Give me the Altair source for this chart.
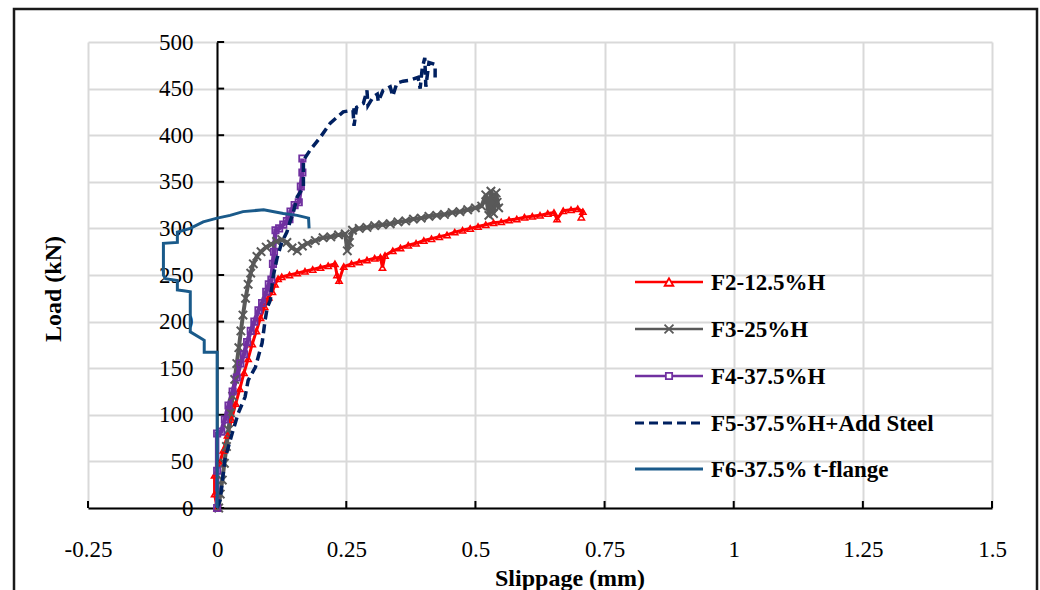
import altair as alt
import pandas as pd

# ---------------- data ----------------
series_names = ["F2-12.5%H", "F3-25%H", "F4-37.5%H", "F5-37.5%H+Add Steel", "F6-37.5% t-flange"]
series_colors = ["#ff0000", "#595959", "#7030a0", "#002060", "#1a5a8a"]

f2_x = [0.0, -0.005, -0.005, 0.005, 0.012, 0.02, 0.028, 0.036, 0.044, 0.052, 0.06, 0.068, 0.076,
        0.084, 0.092, 0.1, 0.107, 0.112, 0.118, 0.125, 0.14, 0.155, 0.17, 0.185, 0.2, 0.215,
        0.228, 0.232, 0.236, 0.245, 0.26, 0.275, 0.29, 0.305, 0.316, 0.32, 0.325, 0.34, 0.355,
        0.37, 0.385, 0.40, 0.415, 0.43, 0.445, 0.46, 0.475, 0.49, 0.505, 0.52, 0.535, 0.55,
        0.565, 0.58, 0.595, 0.61, 0.625, 0.64, 0.652, 0.658, 0.67, 0.685, 0.698, 0.708, 0.705]
f2_y = [0, 15, 35, 48, 62, 78, 95, 112, 128, 145, 160, 176, 190,
        204, 216, 226, 232, 240, 246, 248, 250, 252, 254, 256, 258, 260,
        262, 250, 244, 259, 262, 264, 266, 268, 269, 258, 271, 276, 279,
        282, 284, 287, 289, 291, 293, 296, 298, 300, 302, 304, 306, 307,
        309, 310, 312, 313, 314, 316, 317, 310, 319, 320, 321, 318, 312]

f3_x = [0.003, 0.006, 0.01, 0.014, 0.018, 0.022, 0.026, 0.03, 0.034, 0.038, 0.042, 0.046, 0.05,
        0.055, 0.06, 0.065, 0.07, 0.077, 0.085, 0.095, 0.105, 0.115, 0.125, 0.135, 0.145, 0.155,
        0.165, 0.175, 0.19, 0.205, 0.22, 0.235, 0.248, 0.252, 0.256, 0.262, 0.275, 0.29, 0.305,
        0.32, 0.335, 0.35, 0.365, 0.38, 0.395, 0.41, 0.425, 0.44, 0.455, 0.47, 0.485, 0.5,
        0.512, 0.52, 0.526, 0.53, 0.535, 0.54, 0.545, 0.542]
f3_y = [0, 15, 30, 48, 66, 84, 102, 120, 138, 155, 172, 190, 207,
        225, 240, 252, 262, 270, 275, 280, 283, 286, 288, 285, 279, 276,
        281, 284, 287, 290, 291, 293, 294, 276, 285, 298, 300, 301, 303,
        304, 305, 307, 308, 310, 311, 313, 314, 315, 317, 318, 320, 322,
        324, 336, 314, 340, 316, 338, 322, 328]

f4_x = [0.0, 0.0, 0.0, 0.008, 0.015, 0.022, 0.03, 0.038, 0.045, 0.052, 0.058, 0.065, 0.072, 0.08,
        0.087, 0.095, 0.1, 0.105, 0.108, 0.11, 0.113, 0.12, 0.128, 0.135, 0.14, 0.142, 0.15,
        0.158, 0.162, 0.165, 0.165]
f4_y = [0, 40, 80, 82, 95, 110, 125, 140, 155, 165, 178, 190, 200, 212,
        220, 232, 240, 245, 262, 275, 298, 300, 304, 308, 310, 318, 325,
        328, 345, 360, 375]

f5_x = [0.0, 0.006, 0.015, 0.029, 0.041, 0.054, 0.06, 0.074, 0.087, 0.093, 0.097, 0.103, 0.108,
        0.116, 0.125, 0.135, 0.141, 0.147, 0.155, 0.167, 0.167, 0.18, 0.2, 0.219, 0.244, 0.263,
        0.265, 0.27, 0.283, 0.29, 0.292, 0.302, 0.31, 0.312, 0.321, 0.335, 0.34, 0.348, 0.36,
        0.373, 0.389, 0.393, 0.397, 0.402, 0.404, 0.41, 0.422, 0.422]
f5_y = [0, 9, 52, 80, 102, 119, 137, 151, 177, 202, 215, 223, 247,
        268, 285, 296, 307, 316, 334, 344, 373, 384, 398, 413, 425, 427,
        410, 430, 434, 448, 432, 441, 444, 436, 448, 452, 442, 456, 458,
        459, 462, 450, 472, 483, 452, 478, 476, 460]

f6_x = [0.0, 0.0, -0.025, -0.025, -0.052, -0.052, -0.065, -0.077, -0.077, -0.1, -0.104, -0.104,
        -0.077, -0.077, -0.052, -0.027, 0.0, 0.025, 0.05, 0.09, 0.128, 0.155, 0.177, 0.178]
f6_y = [0, 167, 167, 180, 189, 232, 233, 234, 244, 246, 250, 284,
        285, 296, 300, 307, 311, 314, 318, 320, 316, 314, 311, 300]

x_ticks = [-0.25, 0, 0.25, 0.5, 0.75, 1, 1.25, 1.5]
y_ticks = [0, 50, 100, 150, 200, 250, 300, 350, 400, 450, 500]

x_title = "Slippage (mm)"
y_title = "Load (kN)"

# ---------------- layout ----------------
W, H = 904, 466
FONT = "Liberation Serif"
GRID = "#d9d9d9"

xs = alt.Scale(domain=[-0.25, 1.5], nice=False, zero=False)
ys = alt.Scale(domain=[0, 500], nice=False, zero=False)


def frame(xv, yv):
    return pd.DataFrame({"x": xv, "y": yv, "i": list(range(len(xv)))})


# layer carrying gridlines + bottom x labels/domain
ax_bottom = alt.Axis(orient="bottom", values=x_ticks, grid=True, gridColor=GRID, gridWidth=2,
                     ticks=False, domain=True, domainColor="black", domainWidth=2,
                     labels=True, labelExpr="'' + datum.value", labelFont=FONT, labelFontSize=23,
                     labelColor="black", labelPadding=30, labelFlush=False, labelOverlap=False,
                     title=None)
ax_left_grid = alt.Axis(orient="left", values=y_ticks, grid=True, gridColor=GRID, gridWidth=2,
                        ticks=False, domain=False, labels=False, title=None)
# y axis line at x = 0 with labels
ax_left_main = alt.Axis(orient="left", offset=-129, values=y_ticks, grid=False, ticks=False,
                        domain=True, domainColor="black", domainWidth=2, labels=True,
                        labelExpr="'' + datum.value", labelFont=FONT, labelFontSize=23,
                        labelColor="black", labelPadding=24, labelFlush=False, title=None)


def line_layer(xv, yv, color, xaxis=None, yaxis=None, dash=None, width=2.0):
    kw = dict(color=color, strokeWidth=width, clip=False)
    if dash is not None:
        kw["strokeDash"] = dash
    return alt.Chart(frame(xv, yv)).mark_line(**kw).encode(
        x=alt.X("x:Q", scale=xs, axis=xaxis),
        y=alt.Y("y:Q", scale=ys, axis=yaxis),
        order=alt.Order("i:Q"),
    )


def point_layer(xv, yv, color, shape, size, filled=False, sw=1.3):
    return alt.Chart(frame(xv, yv)).mark_point(
        shape=shape, size=size, filled=filled, color=color, strokeWidth=sw, opacity=1
    ).encode(
        x=alt.X("x:Q", scale=xs, axis=None),
        y=alt.Y("y:Q", scale=ys, axis=None),
    )


# inward tick marks on the axes (x ticks point up from y = 0, y ticks point right from x = 0)
xtick_marks = alt.Chart(pd.DataFrame({"x": x_ticks})).mark_rule(
    color="black", strokeWidth=2, y2Offset=-7).encode(
    x=alt.X("x:Q", scale=xs, axis=None),
    y=alt.YDatum(0, axis=None), y2=alt.Y2Datum(0))
ytick_marks = alt.Chart(pd.DataFrame({"y": y_ticks})).mark_rule(
    color="black", strokeWidth=2, x2Offset=7).encode(
    y=alt.Y("y:Q", scale=ys, axis=None),
    x=alt.XDatum(0, axis=None), x2=alt.X2Datum(0))

XSHAPE = "M-1,-1L1,1M-1,1L1,-1"

f2_line = line_layer(f2_x, f2_y, series_colors[0], ax_bottom, ax_left_grid, width=3)
f2_pts = point_layer(f2_x, f2_y, series_colors[0], "triangle-up", 40, sw=1.5)
f3_line = line_layer(f3_x, f3_y, series_colors[1], None, None, width=4)
f3_pts = point_layer(f3_x, f3_y, series_colors[1], XSHAPE, 70, sw=2)
f4_line = line_layer(f4_x, f4_y, series_colors[2], None, ax_left_main, width=4.5)
f4_pts = point_layer(f4_x, f4_y, series_colors[2], "square", 40, sw=1.8)
f5_line = line_layer(f5_x, f5_y, series_colors[3], dash=[9, 5], width=3.5)
f6_line = line_layer(f6_x, f6_y, series_colors[4], width=3)

one = pd.DataFrame({"k": [0]})

# outer frame of the figure
border = alt.Chart(one).mark_rect(fill=None, stroke="#1a1a1a", strokeWidth=2.5, clip=False).encode(
    x=alt.value(-74), x2=alt.value(949), y=alt.value(-33), y2=alt.value(570)
)

# axis titles
xt = alt.Chart(one).mark_text(font=FONT, fontSize=24, fontWeight="bold", color="black",
                              align="center", baseline="middle").encode(
    x=alt.value(482), y=alt.value(537), text=alt.value(x_title))
yt = alt.Chart(one).mark_text(font=FONT, fontSize=24, fontWeight="bold", color="black",
                              align="center", baseline="middle", angle=270).encode(
    x=alt.value(-34), y=alt.value(247), text=alt.value(y_title))

# legend
leg_rows = [240, 287, 334, 381, 427]
leg_layers = []
leg_shapes = ["triangle-up", XSHAPE, "square", None, None]
leg_sizes = [75, 80, 40, 0, 0]
for k, name in enumerate(series_names):
    ry = leg_rows[k]
    rule_kw = dict(color=series_colors[k], strokeWidth=3 if k >= 3 else 2.5)
    if k == 3:
        rule_kw["strokeDash"] = [9, 5]
    leg_layers.append(alt.Chart(one).mark_rule(**rule_kw).encode(
        x=alt.value(547), x2=alt.value(615), y=alt.value(ry)))
    if leg_shapes[k] is not None:
        leg_layers.append(alt.Chart(one).mark_point(
            shape=leg_shapes[k], size=leg_sizes[k], filled=False, color=series_colors[k],
            strokeWidth=1.8, fill="white", fillOpacity=1).encode(
            x=alt.value(581), y=alt.value(ry)))
    leg_layers.append(alt.Chart(one).mark_text(
        font=FONT, fontSize=23, fontWeight="bold", color="black", align="left",
        baseline="middle").encode(x=alt.value(623), y=alt.value(ry + 1), text=alt.value(name)))

chart = alt.layer(
    f2_line, f3_line, f4_line,
    xtick_marks, ytick_marks,
    f2_pts, f3_pts, f4_pts,
    f5_line, f6_line,
    border, xt, yt, *leg_layers,
).resolve_axis(x="independent", y="independent").properties(
    width=W, height=H,
    padding={"left": 88, "top": 42, "right": 48, "bottom": 82},
    autosize=alt.AutoSizeParams(type="none"),
    background="white",
).configure_view(stroke=None)

chart.save("out.html", embed_options={"renderer": "svg", "actions": False})
